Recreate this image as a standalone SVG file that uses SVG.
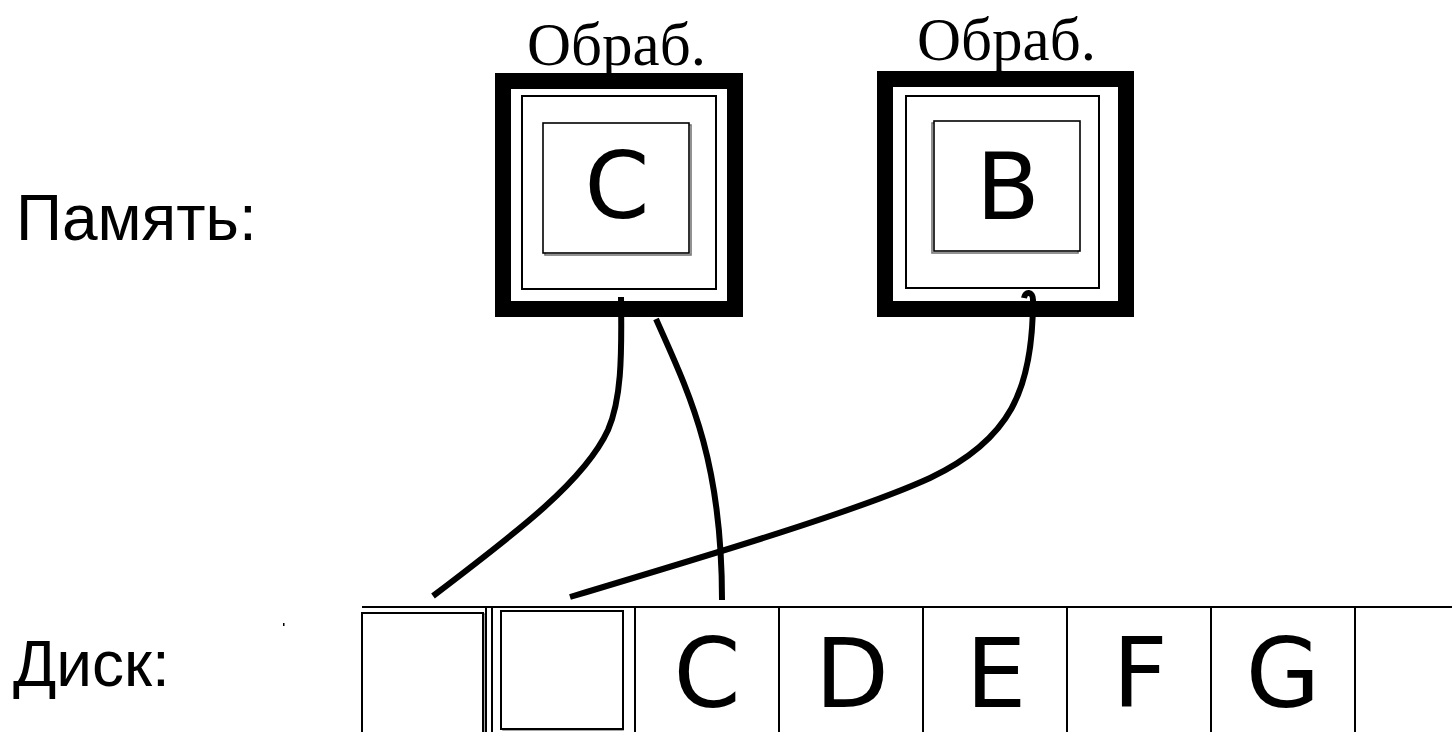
<svg xmlns="http://www.w3.org/2000/svg" width="1452" height="732" viewBox="0 0 1452 732">
<style>
.lbl{font-family:"Liberation Sans",Arial,sans-serif;font-size:64px;fill:#000}
.ser{font-family:"Liberation Serif","Times New Roman",serif;font-size:61px;fill:#000}
.big{font-family:"DejaVu Sans",Verdana,sans-serif;fill:#000;text-anchor:middle}
.thick{fill:#fff;stroke:#000;stroke-width:16}
.mid{fill:none;stroke:#000;stroke-width:2}
.inner{fill:#fff;stroke:#000;stroke-width:1.6}
.shadow{fill:none;stroke:#777;stroke-width:1.6}
.conn{fill:none;stroke:#000;stroke-width:6}
.cell{stroke:#000;stroke-width:2}
</style>
<rect width="1452" height="732" fill="#fff"/>
<text class="lbl" x="16" y="240">Память:</text>
<text class="lbl" x="13" y="686">Диск:</text>
<rect x="283" y="623" width="1.5" height="3" fill="#000"/>

<g id="proc1">
<text class="ser" x="527" y="65">Обраб.</text>
<rect class="thick" x="503" y="81" width="232" height="228"/>
<rect class="mid" x="522" y="96" width="194" height="193"/>
<rect class="shadow" x="545" y="125" width="146" height="130"/>
<rect class="inner" x="543" y="123" width="146" height="130"/>
<text class="big" x="617" y="218" font-size="93">C</text>
</g>

<g id="proc2">
<text class="ser" x="917" y="60">Обраб.</text>
<rect class="thick" x="885" y="79" width="241" height="230"/>
<rect class="mid" x="906" y="96" width="193" height="192"/>
<rect class="shadow" x="932" y="123" width="146" height="130"/>
<rect class="inner" x="934" y="121" width="146" height="130"/>
<text class="big" x="1008" y="219" font-size="93">B</text>
</g>

<g id="disk">
<line class="cell" x1="362" y1="607" x2="1452" y2="607" stroke-width="2.7"/>
<rect x="364" y="614" width="121" height="122" fill="none" stroke="#888" stroke-width="1.5"/>
<rect x="362" y="613" width="121" height="122" fill="#fff" stroke="#000" stroke-width="2"/>
<line class="cell" x1="486" y1="607" x2="486" y2="732"/>
<line class="cell" x1="492" y1="607" x2="492" y2="732"/>
<rect x="503" y="613" width="120" height="117" fill="none" stroke="#888" stroke-width="1.5"/>
<rect x="501" y="611" width="122" height="118" fill="#fff" stroke="#000" stroke-width="2"/>
<line class="cell" x1="635" y1="607" x2="635" y2="732"/>
<line class="cell" x1="779" y1="607" x2="779" y2="732"/>
<line class="cell" x1="923" y1="607" x2="923" y2="732"/>
<line class="cell" x1="1067" y1="607" x2="1067" y2="732"/>
<line class="cell" x1="1211" y1="607" x2="1211" y2="732"/>
<line class="cell" x1="1355" y1="607" x2="1355" y2="732"/>
<text class="big" x="707" y="707" font-size="96">C</text>
<text class="big" x="852" y="707" font-size="96">D</text>
<text class="big" x="996" y="707" font-size="96">E</text>
<text class="big" x="1140" y="707" font-size="96">F</text>
<text class="big" x="1283" y="707" font-size="96">G</text>
</g>

<g id="connectors">
<path class="conn" d="M621,297 C622,360 621,400 608,430 C585,480 520,530 433,596"/>
<path class="conn" d="M656,319 C690,395 722,460 722,600"/>
<path class="conn" d="M1024,298 C1025,291 1033,291 1033,300 C1033,390 1010,440 930,478 C860,510 720,552 570,597"/>
</g>
</svg>
